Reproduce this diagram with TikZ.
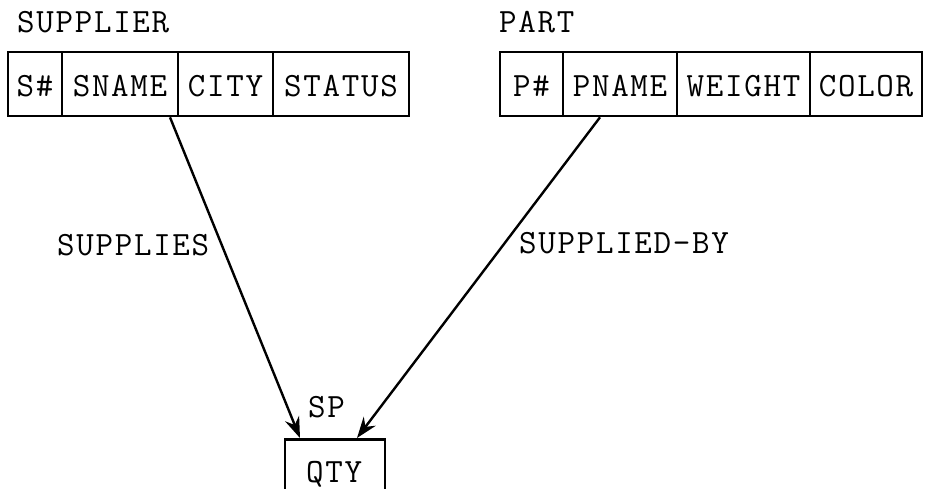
\documentclass[tikz,border=0pt]{standalone}
\usepackage{fontspec}
\usetikzlibrary{arrows.meta}
\newfontfamily\tyfam{Latin Modern Mono}[LetterSpace=5]
\newcommand{\tyfont}{\tyfam\fontsize{34}{34}\selectfont}
\begin{document}
\begin{tikzpicture}[x=1pt,y=-1pt,
  txt/.style={font=\tyfont, inner sep=0pt, anchor=base west},
  cell/.style={draw, line width=2.6pt, rectangle, inner sep=0pt, font=\tyfont, text height=25pt, text depth=0pt, minimum height=64pt},
  conn/.style={line width=2.4pt, -{Stealth[length=21pt,width=15pt,inset=7pt]}}]
\useasboundingbox (0,0) rectangle (925,489);
\clip (0,0) rectangle (925,489);
% labels
\node[txt] (supplier) at (17,33) {SUPPLIER};
\node[txt] (part) at (499,33) {PART};
\node[txt] (supplies) at (57,255) {SUPPLIES};
\node[txt] (suppliedby) at (519,253) {SUPPLIED-BY};
\node[txt] (sp) at (308,417) {SP};
% SUPPLIER table
\node[cell, minimum width=54pt]  (s1) at (35,84)  {S\#};
\node[cell, minimum width=116pt] (s2) at (120,84) {SNAME};
\node[cell, minimum width=95pt]  (s3) at (225.5,84) {CITY};
\node[cell, minimum width=136pt] (s4) at (341,84) {STATUS};
% PART table
\node[cell, minimum width=63pt]  (p1) at (531.5,84) {P\#};
\node[cell, minimum width=114pt] (p2) at (620,84) {PNAME};
\node[cell, minimum width=133pt] (p3) at (743.5,84) {WEIGHT};
\node[cell, minimum width=112pt] (p4) at (866,84) {COLOR};
% SP
\node[cell, minimum width=100pt, minimum height=90pt, anchor=north] (qty) at (335,438) {};
\node[txt] (qtyt) at (306,482) {QTY};
% connectors
\coordinate (a1) at (170,117);
\coordinate (a2) at (300,438);
\coordinate (b1) at (600,117);
\coordinate (b2) at (357,438);
\draw[conn] (s2.south -| a1) -- (qty.north -| a2);
\draw[conn] (p2.south -| b1) -- (qty.north -| b2);
\end{tikzpicture}
\end{document}
